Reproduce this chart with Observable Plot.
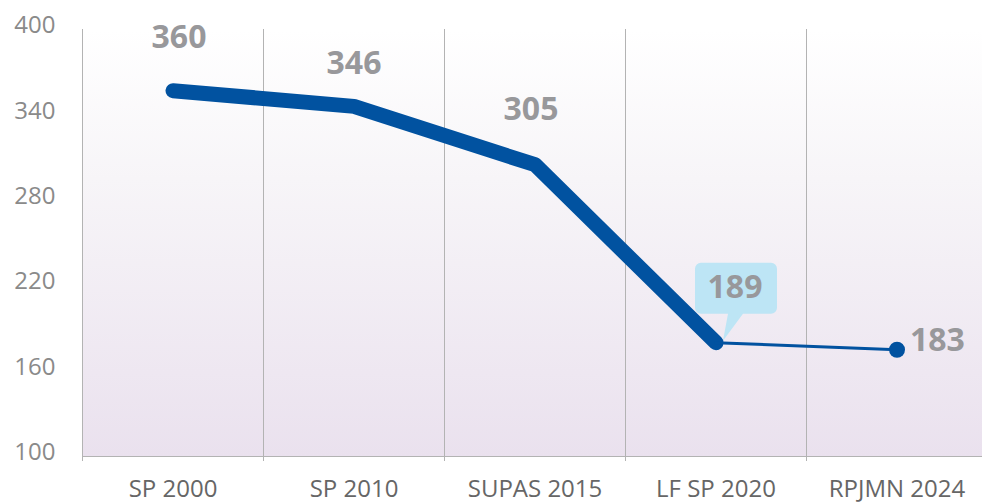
<!DOCTYPE html>
<html>
<head>
<meta charset="utf-8">
<script src="https://cdn.jsdelivr.net/npm/d3@7"></script>
<script src="https://cdn.jsdelivr.net/npm/@observablehq/plot@0.6"></script>
<style>
  html, body { margin: 0; padding: 0; background: #ffffff; }
  #chart svg { display: block; }
</style>
</head>
<body>
<div id="chart"></div>
<script>
// ---- data ----
const categories = ["SP 2000", "SP 2010", "SUPAS 2015", "LF SP 2020", "RPJMN 2024"];
const values = [357, 346, 305, 180, 175];          // plotted positions
const valueLabels = ["360", "346", "305", "189", "183"]; // printed labels
const yTicks = [100, 160, 220, 280, 340, 400];

const data = categories.map((c, i) => ({ i, pos: i + 0.5, category: c, value: values[i], label: valueLabels[i] }));
const thickPart = data.slice(0, 4);
const thinPart = data.slice(3);

const BLUE = "#0152a0";
const LABEL_GRAY = "#98989b";

// callout bubble shape drawn relative to the point
const calloutSymbol = {
  draw(ctx) {
    const x0 = -21, x1 = 61, y0 = -80, y1 = -29, r = 6;
    ctx.moveTo(x0 + r, y0);
    ctx.lineTo(x1 - r, y0);
    ctx.arcTo(x1, y0, x1, y0 + r, r);
    ctx.lineTo(x1, y1 - r);
    ctx.arcTo(x1, y1, x1 - r, y1, r);
    ctx.lineTo(27, y1);
    ctx.lineTo(7, -2);
    ctx.lineTo(12, y1);
    ctx.lineTo(x0 + r, y1);
    ctx.arcTo(x0, y1, x0, y1 - r, r);
    ctx.lineTo(x0, y0 + r);
    ctx.arcTo(x0, y0, x0 + r, y0, r);
    ctx.closePath();
  }
};

const labelOffsets = [[6, -53], [0, -43], [-4, -55]];
const topLabels = labelOffsets.map(([dx, dy], k) =>
  Plot.text([data[k]], { x: "pos", y: "value", text: "label", dx, dy,
    fill: LABEL_GRAY, fontWeight: "bold", fontSize: 32 })
);

const chart = Plot.plot({
  width: 982,
  height: 504,
  marginLeft: 82,
  marginRight: 0,
  marginTop: 29,
  marginBottom: 48,
  style: { fontFamily: "'Open Sans', 'Noto Sans', sans-serif", fontSize: "24px", background: "#ffffff", overflow: "visible" },
  x: { domain: [0, 5], range: [82, 987] },
  y: { domain: [100, 400] },
  marks: [
    Plot.frame({ fill: "url(#bgGrad)", stroke: "none" }),
    Plot.ruleX([0, 1, 2, 3, 4], { stroke: "#b3b3b3", strokeWidth: 1, insetBottom: -5 }),
    Plot.ruleY([100], { stroke: "#b3b3b3", strokeWidth: 1.2 }),
    Plot.axisY({ ticks: yTicks, tickSize: 0, tickPadding: 27, dy: -4, fill: "#8a8a8a", fontSize: 24, label: null }),
    Plot.axisX({ ticks: data.map(d => d.pos), tickFormat: d => categories[Math.round(d - 0.5)],
      tickSize: 0, tickPadding: 23, fill: "#666666", fontSize: 24, label: null }),
    // callout bubble behind 189
    Plot.dot([data[3]], { x: "pos", y: "value", symbol: calloutSymbol, fill: "#bde5f5", stroke: "none" }),
    Plot.text([data[3]], { x: "pos", y: "value", text: "label", dx: 19, dy: -55,
      fill: LABEL_GRAY, fontWeight: "bold", fontSize: 32 }),
    // lines
    Plot.line(thickPart, { x: "pos", y: "value", stroke: BLUE, strokeWidth: 15,
      strokeLinecap: "round", strokeLinejoin: "round" }),
    Plot.line(thinPart, { x: "pos", y: "value", stroke: BLUE, strokeWidth: 3, strokeLinecap: "round" }),
    Plot.dot([data[4]], { x: "pos", y: "value", r: 8, fill: BLUE, stroke: "none" }),
    Plot.text([data[4]], { x: "pos", y: "value", text: "label", dx: 13, dy: -9, textAnchor: "start",
      fill: LABEL_GRAY, fontWeight: "bold", fontSize: 32 }),
    ...topLabels
  ]
});

d3.select(chart).insert("defs", ":first-child").html(
  '<linearGradient id="bgGrad" x1="0" y1="0" x2="0" y2="1">' +
  '<stop offset="0" stop-color="#ffffff"/>' +
  '<stop offset="0.35" stop-color="#f7f5f8"/>' +
  '<stop offset="1" stop-color="#eae1ee"/>' +
  '</linearGradient>'
);

document.getElementById("chart").appendChild(chart);
</script>
</body>
</html>
